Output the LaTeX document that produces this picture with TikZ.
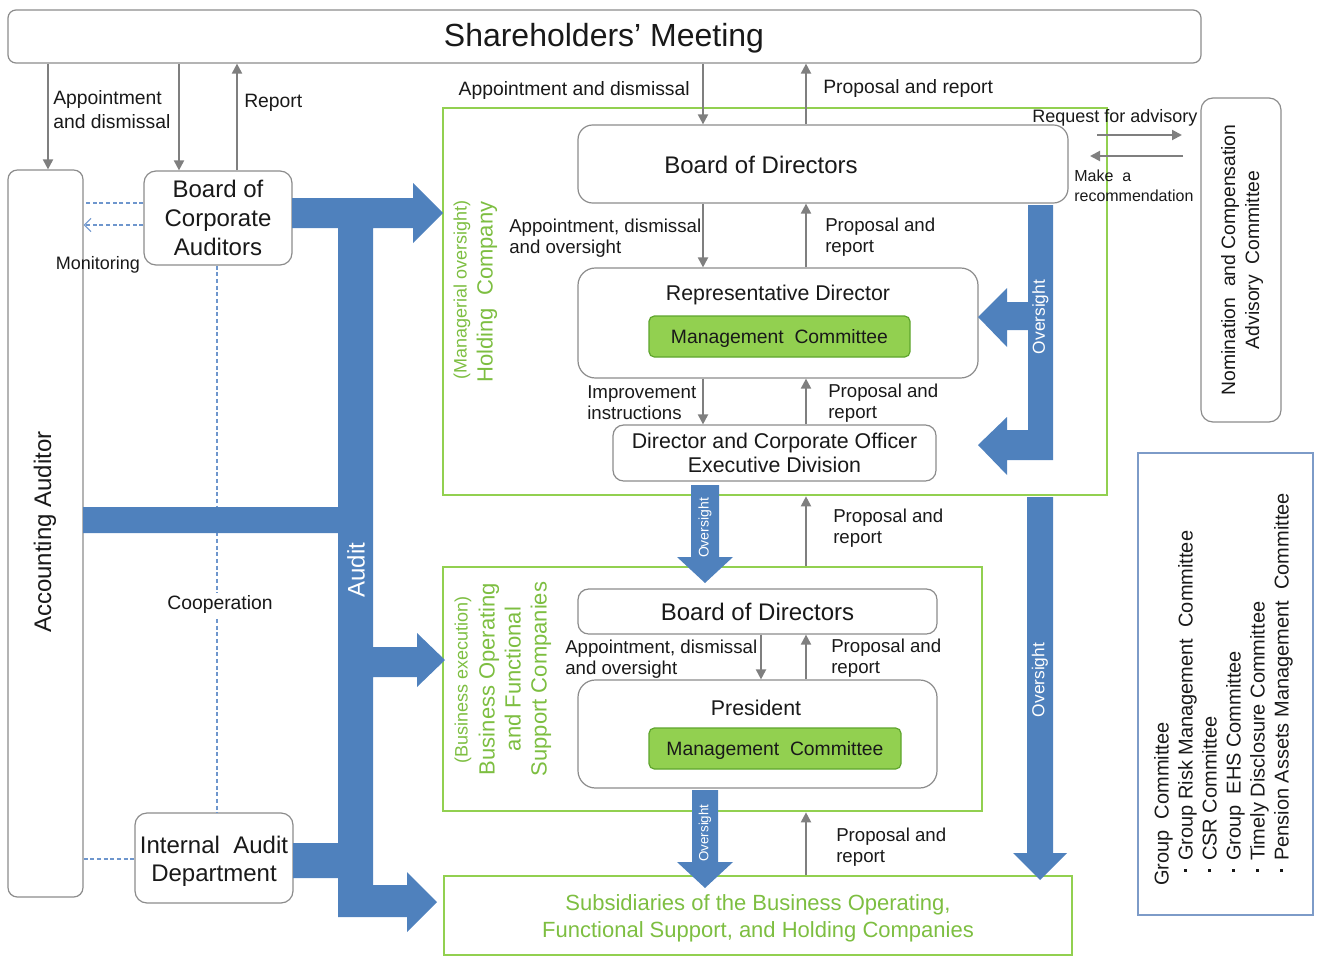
\documentclass[tikz,border=0pt]{standalone}
\usepackage{fontspec}
\setmainfont{Liberation Sans}
\usetikzlibrary{arrows.meta}
\definecolor{ablue}{RGB}{79,129,189}
\definecolor{lgreen}{RGB}{146,208,80}
\definecolor{mgreen}{RGB}{146,208,80}
\definecolor{mborder}{RGB}{95,165,45}
\definecolor{tgreen}{RGB}{125,190,65}
\definecolor{agray}{RGB}{127,127,127}
\definecolor{bgray}{RGB}{140,140,140}
\definecolor{dblue}{RGB}{110,150,205}
\definecolor{gblue}{RGB}{125,155,200}
\definecolor{tx}{RGB}{25,25,25}
\newcommand\fsl[2]{\fontsize{#1}{#2}\selectfont}
\newcommand\sqb{\hspace*{10pt}\rule[0.28em]{2.6pt}{2.6pt}\hspace{6pt}}
\tikzset{
  sz/.style 2 args={minimum width=#1*0.75pt, minimum height=#2*0.75pt},
  gbox/.style={draw=bgray, line width=0.9pt, fill=white, inner sep=0pt, rounded corners=#1},
  grn/.style={draw=lgreen, line width=2pt, inner sep=0pt},
  mbox/.style={draw=mborder, fill=mgreen, line width=0.9pt, rounded corners=4pt, inner sep=0pt, text depth=0pt, font=\fsl{14.5}{17}},
  garr/.style={draw=agray, line width=1.5pt, -{Triangle[length=7.5pt,width=7.5pt]}},
  dline/.style={draw=dblue, line width=0.8pt, dash pattern=on 3pt off 2pt},
  lbl/.style={inner sep=0pt, align=left, font=\fsl{14.5}{18}},
  slbl/.style={inner sep=0pt, align=left, font=\fsl{14}{15.75}},
  dn/.style={yshift=-2pt},
  wtxt/.style={text=white, inner sep=0pt, rotate=90},
  gtxt/.style={text=tgreen, inner sep=0pt, rotate=90, align=center},
}
\begin{document}
\begin{tikzpicture}[x=0.75pt,y=-0.75pt, every node/.style={text=tx}]
\useasboundingbox (0,0) rectangle (1317,956);

% helper coordinates
\coordinate (x48) at (48,0);
\coordinate (x179) at (179,0);
\coordinate (x237) at (237,0);
\coordinate (x217) at (217,0);
\coordinate (x703) at (703,0);
\coordinate (x806) at (806,0);
\coordinate (x761) at (761,0);
\coordinate (y203) at (0,203);
\coordinate (y225) at (0,225);
\coordinate (y859) at (0,859);
\coordinate (rq1) at (1097,135);
\coordinate (rq2) at (1182,135);
\coordinate (mk1) at (1183,156);
\coordinate (mk2) at (1090,156);

% green frames
\node[grn, sz={664}{387}] (hc) at (775,301.5) {};
\node[grn, sz={539}{244}] (bofs) at (712.5,689) {};
\node[grn, sz={628}{79}] (sub) at (758,915.5) {};
\node[inner sep=0pt, align=center, text=tgreen, font=\fsl{16.5}{20}] (subt) at (758,918) {Subsidiaries of the Business Operating,\\Functional Support, and Holding Companies};

% gray boxes
\node[gbox=6pt, sz={1193}{53}] (sh) at (604.5,36.5) {};
\node[inner sep=0pt, font=\fsl{24}{28}, dn] (sht) at (604,36) {Shareholders’ Meeting};
\node[gbox=7pt, sz={75}{727}] (aa) at (45.5,533.5) {};
\node[rotate=90, inner sep=0pt, font=\fsl{18}{21}] (aatxt) at (45,532) {Accounting Auditor};
\node[gbox=9pt, sz={148}{94}, align=center, font=\fsl{18}{21.5}] (bca) at (218,218) {Board of\\Corporate\\Auditors};
\node[gbox=9pt, sz={158}{90}] (iad) at (214,858) {};
\node[inner sep=0pt, align=center, font=\fsl{18}{21}] (iadt) at (214,861) {Internal\ \ Audit\\Department};

\node[gbox=11pt, sz={490}{78}] (bod1) at (823,164) {};
\node[inner sep=0pt, font=\fsl{18}{21}] (bod1t) at (761,165) {Board of Directors};
\node[gbox=13pt, sz={400}{110}] (rep) at (778,323) {};
\node[inner sep=0pt, font=\fsl{16}{19}, dn] (rept) at (778,292) {Representative Director};
\node[mbox, sz={261}{41}] (mc1) at (779.5,336.5) {Management\ \ Committee};
\node[gbox=8pt, sz={323}{56}, align=center, font=\fsl{16}{18}] (exe) at (774.5,453) {Director and Corporate Officer\\Executive Division};

\node[gbox=9pt, sz={80}{324}] (nom) at (1241,260) {};
\node[rotate=90, inner sep=0pt, align=center, font=\fsl{14.5}{18}] (nomt) at (1242,260) {Nomination\ \ and Compensation\\Advisory\ \ Committee};

\node[gbox=8pt, sz={359}{45}, font=\fsl{18}{21}] (bod2) at (757.5,611.5) {Board of Directors};
\node[gbox=13pt, sz={359}{108}] (pres) at (757.5,734) {};
\node[inner sep=0pt, font=\fsl{16}{19}, dn] (prest) at (756,705) {President};
\node[mbox, sz={252}{41}] (mc2) at (775,748.5) {Management\ \ Committee};

\node[draw=gblue, line width=1pt, sz={175}{462}, inner sep=0pt] (grp) at (1225.5,684) {};
\node[rotate=90, anchor=west, inner sep=0pt, align=left, font=\fsl{15}{18}] (grpt) at (1223.5,886) {Group\ \ Committee\\\sqb Group Risk Management\ \ Committee\\\sqb CSR Committee\\\sqb Group\ \ EHS Committee\\\sqb Timely Disclosure Committee\\\sqb Pension Assets Management\ \ Committee};

% dashed blue lines
\draw[dline] (bca.west |- y203) -- (aa.east |- y203);
\draw[dline, -{Straight Barb[length=5pt,width=10pt,line width=0.8pt]}] (bca.west |- y225) -- (aa.east |- y225);
\draw[dline] (bca.south -| x217) -- (iad.north -| x217);
\draw[dline] (aa.east |- y859) -- (iad.west |- y859);
\node[fill=white, inner sep=2pt, font=\fsl{14.5}{17}, dn] (coop) at (220,602) {Cooperation};
\node[inner sep=0pt, font=\fsl{13.5}{16}, dn] (mon) at (98,262) {Monitoring};

% blue audit structure
\fill[ablue] (292,198) -- (413,198) -- (413,183) -- (443,213) -- (413,243) -- (413,228) -- (373,228)
  -- (373,647) -- (417,647) -- (417,633) -- (445,660) -- (417,687) -- (417,677) -- (373,677)
  -- (373,885) -- (407,885) -- (407,872) -- (437,902) -- (407,932) -- (407,917) -- (338,917)
  -- (338,878) -- (293,878) -- (293,843) -- (338,843) -- (338,533) -- (83,533) -- (83,507)
  -- (338,507) -- (338,228) -- (292,228) -- cycle;
\node[wtxt, font=\fsl{18}{21}] (audit) at (356,570) {Audit};

% right oversight (holding)
\fill[ablue] (1028,205) -- (1053,205) -- (1053,460) -- (1007,460) -- (1007,475) -- (978,445) -- (1007,417)
  -- (1007,430) -- (1028,430) -- (1028,330) -- (1007,330) -- (1007,347) -- (978,317) -- (1007,288)
  -- (1007,302) -- (1028,302) -- cycle;
\node[wtxt, font=\fsl{13}{15}] (ov1) at (1040.5,317) {Oversight};

% long right oversight arrow
\fill[ablue] (1027,497) -- (1053,497) -- (1053,853) -- (1067,853) -- (1040,880) -- (1013,853) -- (1027,853) -- cycle;
\node[wtxt, font=\fsl{13}{15}] (ov2) at (1040,680) {Oversight};

% middle oversight arrows
\fill[ablue] (691,485) -- (719,485) -- (719,557) -- (733,557) -- (705,583) -- (677,557) -- (691,557) -- cycle;
\node[wtxt, font=\fsl{10.5}{12}] (ov3) at (705,528) {Oversight};
\fill[ablue] (692,790) -- (718,790) -- (718,862) -- (733,862) -- (705,888) -- (677,862) -- (692,862) -- cycle;
\node[wtxt, font=\fsl{10}{12}] (ov4) at (705,833) {Oversight};

% green rotated titles
\node[gtxt, font=\fsl{13.5}{16}] (hct1) at (462,290) {(Managerial oversight)};
\node[gtxt, font=\fsl{16.5}{19}] (hct2) at (487,292) {Holding\ \ Company};
\node[gtxt, font=\fsl{13.5}{16}] (bt1) at (463,680) {(Business execution)};
\node[gtxt, font=\fsl{16.5}{19.5}] (bt2) at (515,679) {Business Operating\\and Functional\\Support Companies};

% gray arrows
\draw[garr] (sh.south -| x48) -- (aa.north -| x48);
\draw[garr] (sh.south -| x179) -- (bca.north -| x179);
\draw[garr] (bca.north -| x237) -- (sh.south -| x237);
\draw[garr] (sh.south -| x703) -- (bod1.north -| x703);
\draw[garr] (bod1.north -| x806) -- (sh.south -| x806);
\draw[garr] (bod1.south -| x703) -- (rep.north -| x703);
\draw[garr] (rep.north -| x806) -- (bod1.south -| x806);
\draw[garr] (rep.south -| x703) -- (exe.north -| x703);
\draw[garr] (exe.north -| x806) -- (rep.south -| x806);
\draw[garr] (bofs.north -| x806) -- (hc.south -| x806);
\draw[garr] (bod2.south -| x761) -- (pres.north -| x761);
\draw[garr] (pres.north -| x806) -- (bod2.south -| x806);
\draw[garr] (sub.north -| x806) -- (bofs.south -| x806);
\draw[garr] (rq1) -- (rq2);
\draw[garr] (mk1) -- (mk2);

% labels
\node[lbl, anchor=west] (l1) at (53,110) {Appointment\\and dismissal};
\node[lbl, anchor=west, dn] (l2) at (244,100) {Report};
\node[lbl, anchor=east, dn] (l3) at (690,88) {Appointment and dismissal};
\node[lbl, anchor=west, dn] (l4) at (823,86) {Proposal and report};
\node[inner sep=0pt, anchor=west, font=\fsl{13.5}{16}, dn] (l5) at (1032,115) {Request for advisory};
\node[inner sep=0pt, anchor=west, align=left, font=\fsl{12}{15}] (l6) at (1074,186) {Make\ \ a\\recommendation};
\node[slbl, anchor=west] (l7) at (509,238) {Appointment, dismissal\\and oversight};
\node[slbl, anchor=west] (l8) at (825,237) {Proposal and\\report};
\node[slbl, anchor=west] (l9) at (587,403) {Improvement\\instructions};
\node[slbl, anchor=west] (l10) at (828,403) {Proposal and\\report};
\node[slbl, anchor=west] (l11) at (833,528) {Proposal and\\report};
\node[slbl, anchor=west] (l12) at (565,659) {Appointment, dismissal\\and oversight};
\node[slbl, anchor=west] (l13) at (831,658) {Proposal and\\report};
\node[slbl, anchor=west] (l14) at (836,847) {Proposal and\\report};
\end{tikzpicture}
\end{document}
